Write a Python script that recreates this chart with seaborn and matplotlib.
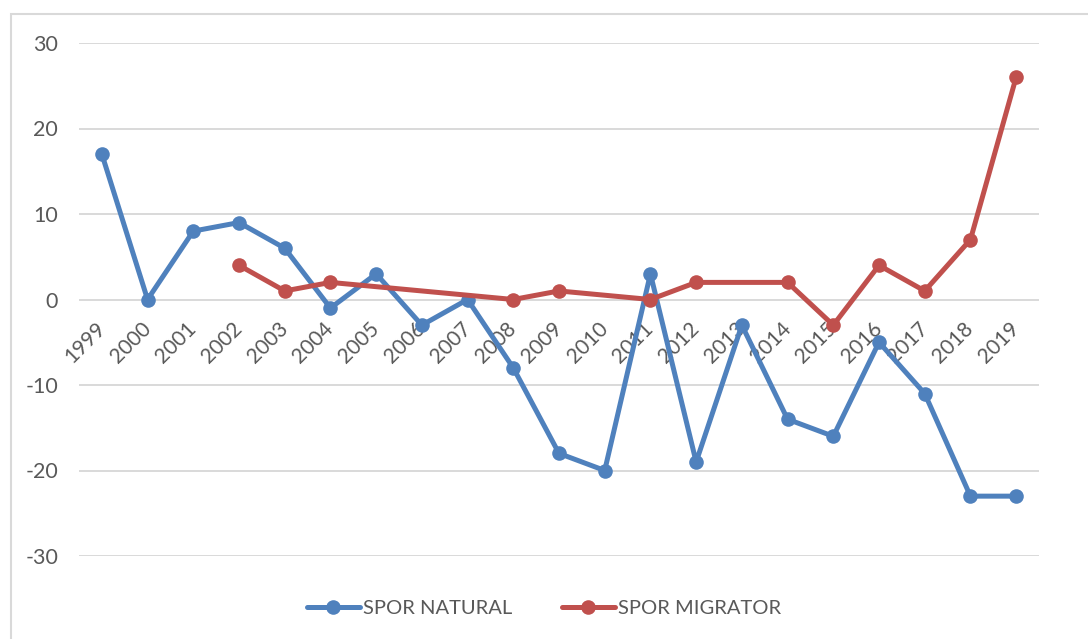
import matplotlib.pyplot as plt
from matplotlib.lines import Line2D
from matplotlib.patches import Rectangle
import numpy as np
import pandas as pd
import seaborn as sns

# Data
YEARS = ["1999", "2000", "2001", "2002", "2003", "2004", "2005", "2006", "2007",
         "2008", "2009", "2010", "2011", "2012", "2013", "2014", "2015", "2016",
         "2017", "2018", "2019"]
NATURAL = [17, 0, 8, 9, 6, -1, 3, -3, 0, -8, -18, -20, 3, -19, -3, -14, -16, -5,
           -11, -23, -23]
MIGRATOR = [np.nan, np.nan, np.nan, 4, 1, 2, np.nan, np.nan, np.nan, 0, 1, np.nan,
            0, 2, np.nan, 2, -3, 4, 1, 7, 26]
SERIES = ["SPOR NATURAL", "SPOR MIGRATOR"]
COLORS = {"SPOR NATURAL": "#4f81bd", "SPOR MIGRATOR": "#c0504d"}
Y_TICKS = [-30, -20, -10, 0, 10, 20, 30]

TEXT_COLOR = "#595959"
GRID_COLOR = "#d9d9d9"

sns.set_theme(style="white")
plt.rcParams["font.family"] = ["Lato", "DejaVu Sans"]
plt.rcParams["axes.unicode_minus"] = False

df = pd.concat(
    [
        pd.DataFrame({"pos": range(len(YEARS)), "value": NATURAL, "series": SERIES[0]}),
        pd.DataFrame({"pos": range(len(YEARS)), "value": MIGRATOR, "series": SERIES[1]}),
    ]
).dropna()

fig = plt.figure(figsize=(10.88, 6.39), dpi=100)
ax = fig.add_axes([79 / 1088, 1 - 556 / 639, (1039 - 79) / 1088, (556 - 43) / 639])

sns.lineplot(
    data=df,
    x="pos",
    y="value",
    hue="series",
    hue_order=SERIES,
    palette=COLORS,
    marker="o",
    markersize=10.5,
    markeredgewidth=0,
    linewidth=3.6,
    sort=False,
    legend=False,
    ax=ax,
)

ax.set_xlim(-0.5, len(YEARS) - 0.5)
ax.set_ylim(-30, 30)
ax.set_yticks(Y_TICKS)
ax.set_xticks(range(len(YEARS)))
ax.set_xticklabels(YEARS)
ax.set_xlabel("")
ax.set_ylabel("")

ax.yaxis.grid(True, color=GRID_COLOR, linewidth=1.4)
ax.set_axisbelow(True)
for side in ["top", "right", "left"]:
    ax.spines[side].set_visible(False)
# category axis crosses at zero, like Excel
ax.spines["bottom"].set_position(("data", 0))
ax.spines["bottom"].set_visible(False)

ax.tick_params(axis="y", length=0, pad=15, labelsize=15.5, labelcolor=TEXT_COLOR)
ax.tick_params(axis="x", length=0, pad=19, labelsize=15, labelcolor=TEXT_COLOR)
plt.setp(ax.get_xticklabels(), rotation=45, ha="right", va="center",
         rotation_mode="anchor")

# outer chart frame (Excel-like)
fig.patches.append(
    Rectangle((11 / 1088, -0.1), 1.2, 1.1 - 14 / 639,
              transform=fig.transFigure, fill=False,
              edgecolor=GRID_COLOR, linewidth=1.5)
)

handles = [
    Line2D([], [], color=COLORS[s], marker="o", markersize=10.5,
           markeredgewidth=0, linewidth=3.6)
    for s in SERIES
]
fig.legend(
    handles,
    SERIES,
    loc="center",
    bbox_to_anchor=(0.5, 1 - 608 / 639),
    ncol=2,
    frameon=False,
    fontsize=14.5,
    labelcolor=TEXT_COLOR,
    handlelength=2.6,
    handletextpad=0.15,
    columnspacing=2.5,
)

fig.savefig("out.png", dpi=100)
